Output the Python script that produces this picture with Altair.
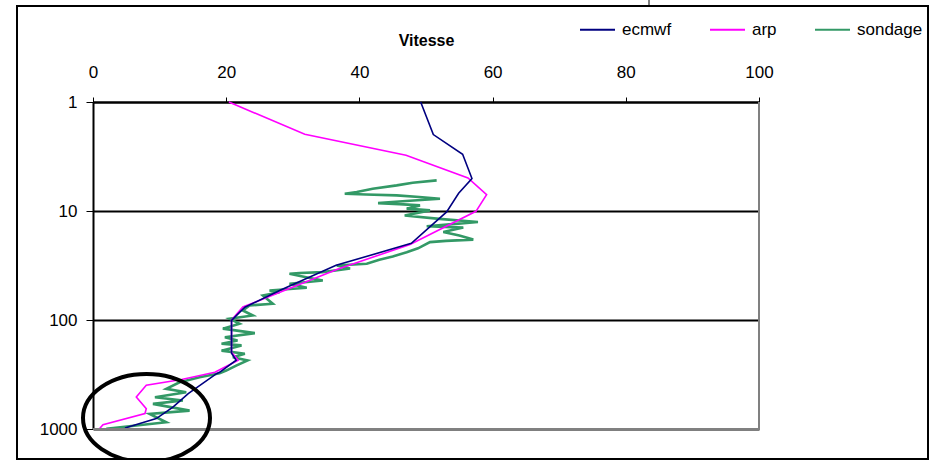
import altair as alt
import pandas as pd

# ---- data ----
ecmwf_vitesse = [49.2, 51.1, 55.5, 56.9, 54.9, 53.1, 47.8, 36.5, 28.1, 22.8, 20.8, 20.8, 21.5, 19.0, 18.5, 14.3, 12.0, 9.5, 4.8]
ecmwf_pression = [1, 1.99, 3.02, 5.04, 6.88, 10.2, 19.8, 31.5, 53.4, 76.4, 100.7, 202, 234, 302, 312, 473, 629, 803, 980]

arp_vitesse = [20.4, 31.8, 47.0, 56.3, 59.1, 57.5, 47.6, 36.8, 22.5, 20.8, 20.8, 21.8, 18.3, 13.3, 8.0, 6.5, 8.0, 7.8, 1.5, 1.0]
arp_pression = [1, 1.98, 3.08, 4.98, 7.07, 10.07, 20.3, 34, 76, 100, 198, 234, 302, 352, 397, 509, 650, 722, 914, 990]

sondage_vitesse = [51.6, 48.0, 45.6, 42.0, 39.6, 37.8, 41.0, 45.6, 49.0, 52.1, 47.0, 42.8, 46.0, 49.1, 47.1, 50.6,
                   46.8, 52.0, 57.8, 54.0, 50.1, 55.6, 52.6, 55.0, 57.1, 53.0, 50.6, 48.8, 47.1, 45.0, 43.0,
                   41.1, 36.6, 38.6, 34.5, 31.0, 29.5, 32.0, 34.5, 29.5, 32.1, 26.5, 28.0,
                   25.5, 27.0, 23.5, 22.5, 24.0, 20.5, 22.0, 19.5, 24.3, 19.8, 21.7, 19.3, 22.3, 19.3, 22.8,
                   21.0, 23.2, 21.5, 20.0, 19.0, 16.0, 13.0, 11.0, 14.0, 9.3, 13.5, 9.0, 14.5, 8.5, 11.0, 6.5, 2.0]
sondage_pression = [5.24, 5.50, 5.82, 6.25, 6.70, 6.94, 7.05, 7.19, 7.45, 7.71, 8.10, 8.46, 8.65, 8.88, 9.52, 9.87,
                    11.0, 11.8, 12.6, 13.2, 13.8, 14.2, 15.6, 16.8, 18.3, 18.8, 19.3, 22.0, 23.9, 26.1, 28.0,
                    30.5, 31.6, 33.7, 36.4, 37.0, 37.7, 40.5, 43.4, 46.5, 50.6, 53.6, 55.6,
                    59.6, 71.0, 73.6, 81.8, 90.9, 97.5, 108, 120, 132, 144, 154, 165, 171, 191, 204,
                    220, 235, 262, 291, 308, 335, 373, 428, 460, 512, 548, 588, 678, 727, 868, 930, 998]

series_names = ["ecmwf", "arp", "sondage"]
series_colors = ["#000080", "#FF00FF", "#339966"]
x_ticks = [0, 20, 40, 60, 80, 100]
y_ticks = [1, 10, 100, 1000]

rows = []
for name, xs, ys in [("ecmwf", ecmwf_vitesse, ecmwf_pression),
                     ("arp", arp_vitesse, arp_pression),
                     ("sondage", sondage_vitesse, sondage_pression)]:
    for i, (xv, yv) in enumerate(zip(xs, ys)):
        rows.append({"serie": name, "vitesse": xv, "pression": yv, "i": i})
df = pd.DataFrame(rows)

W, H = 666, 327
FS = 17

x_enc = alt.X("vitesse:Q",
              scale=alt.Scale(domain=[0, 100], nice=False, zero=False),
              axis=alt.Axis(orient="top", values=x_ticks, title="Vitesse",
                            titleFontWeight="bold", titleFontSize=16, titlePadding=15,
                            labelFontSize=FS, labelPadding=16, tickSize=5,
                            tickColor="black", domainColor="black", domainWidth=2,
                            grid=False, labelColor="black", titleColor="black",
                            labelFlush=False))
y_enc = alt.Y("pression:Q",
              scale=alt.Scale(type="log", domain=[1, 1000], reverse=True, nice=False),
              axis=alt.Axis(values=y_ticks, format="d", title=None,
                            labelFontSize=FS, labelPadding=9, tickSize=7,
                            tickColor="black", domainColor="black", domainWidth=2,
                            grid=True, gridColor="black", gridWidth=2,
                            labelColor="black", labelFlush=False))
color_enc = alt.Color("serie:N",
                      scale=alt.Scale(domain=series_names, range=series_colors),
                      legend=alt.Legend(orient="none", legendX=486, legendY=-91,
                                        direction="horizontal", title=None,
                                        symbolType="stroke", symbolSize=1225,
                                        symbolStrokeWidth=2, labelFontSize=FS,
                                        labelOffset=6, columnPadding=34,
                                        labelColor="black", padding=0))

base = alt.Chart(df).encode(x=x_enc, y=y_enc, color=color_enc, order=alt.Order("i:Q"))

sond = base.transform_filter(alt.datum.serie == "sondage").mark_line(strokeWidth=2.6)
arp = base.transform_filter(alt.datum.serie == "arp").mark_line(strokeWidth=1.6)
ecm = base.transform_filter(alt.datum.serie == "ecmwf").mark_line(strokeWidth=1.6)

one = pd.DataFrame({"k": [0]})
deco = alt.Chart(one)
right_border = deco.mark_rule(color="#808080", strokeWidth=2).encode(
    x=alt.value(W), y=alt.value(0), y2=alt.value(H))
bottom_border = deco.mark_rule(color="#808080", strokeWidth=2).encode(
    x=alt.value(0), x2=alt.value(W + 1), y=alt.value(H))
frame = deco.mark_rect(fill="transparent", stroke="black", strokeWidth=2).encode(
    x=alt.value(-76), x2=alt.value(835), y=alt.value(-96), y2=alt.value(357))
stub = deco.mark_rule(color="black", strokeWidth=1).encode(
    x=alt.value(556), y=alt.value(-102), y2=alt.value(-96))
ellipse = deco.mark_point(
    shape="M -1 0 A 1 0.693 0 1 1 1 0 A 1 0.693 0 1 1 -1 0 Z",
    size=16129, filled=False, stroke="black", strokeWidth=4, opacity=1).encode(
    x=alt.value(53.5), y=alt.value(316))

chart = alt.layer(sond, arp, ecm, right_border, bottom_border, frame, stub, ellipse).properties(
    width=W, height=H,
    autosize=alt.AutoSizeParams(type="none"),
    padding={"left": 93, "top": 102, "right": 930 - 93 - W, "bottom": 460 - 102 - H},
    background="white",
).configure(font="Liberation Sans").configure_view(strokeWidth=0)

chart.save("out.html", embed_options={"renderer": "svg", "actions": False})
